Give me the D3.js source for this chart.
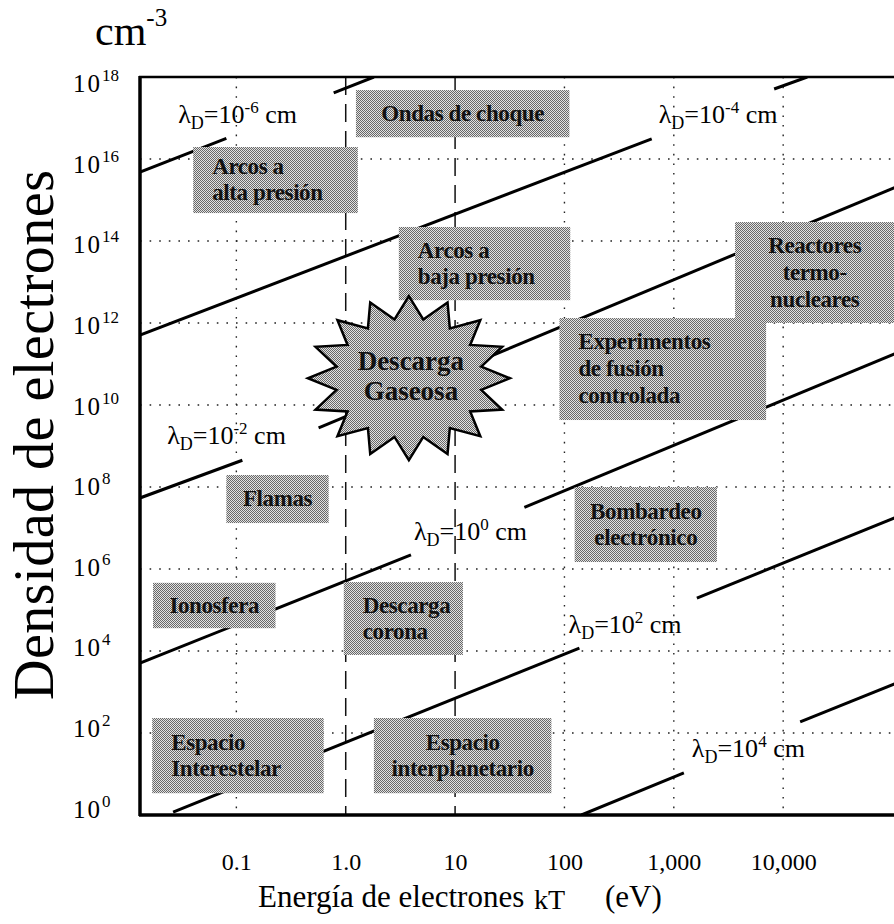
<!DOCTYPE html>
<html>
<head>
<meta charset="utf-8">
<script src="https://cdn.jsdelivr.net/npm/d3@7"></script>
<style>
  body { margin: 0; background: #fff; }
  svg { display: block; font-family: "Liberation Serif", "Times New Roman", serif; }
</style>
</head>
<body>
<div id="viz-container"></div>
<script>
let w = 894;
let h = 924;

// axis ticks
const xTicks = [0.1, 1, 10, 100, 1000, 10000];
const xTickLabels = ["0.1", "1.0", "10", "100", "1,000", "10,000"];
const yTickExps = [0, 2, 4, 6, 8, 10, 12, 14, 16, 18];
const dottedX = [0.1, 100, 1000, 10000];
const dashedX = [1, 10];

// Debye length lines, two visible pieces each: [kT eV, n cm^-3]
const debyeExps = [-6, -4, -2, 0, 2, 4];
const debyeSegments = [
  [[[0.01315, 4.8e15], [0.081, 3.2e16]], [[0.776, 4.1e17], [1.81, 1e18]]],
  [[[0.01315, 5.1e11], [628, 3.1e16]], [[8270, 5.1e17], [16600, 1e18]]],
  [[[0.01315, 5.4e7], [0.1135, 4.5e8]], [[0.565, 2.75e9], [1.09e5, 2.1e15]]],
  [[[0.01315, 5.1e3], [3.95, 2.2e6]], [[43, 3.2e7], [1.09e5, 1.86e11]]],
  [[[0.0264, 1.18], [137, 1.18e4]], [[1625, 1.96e5], [1.09e5, 1.86e7]]],
  [[[143, 1], [1236, 10.6]], [[14300, 186], [1.09e5, 1660]]]
];
const debyeLabelAt = [[0.0294, 7.6e16], [728, 7.6e16], [0.0233, 1.12e9], [4.2, 5.1e6], [109, 2.75e4], [1462, 26]];

// plasma regions
const regionNames = [
  ["Ondas de choque"],
  ["Arcos a", "alta presión"],
  ["Arcos a", "baja presión"],
  ["Reactores", "termo-", "nucleares"],
  ["Experimentos", "de fusión", "controlada"],
  ["Flamas"],
  ["Bombardeo", "electrónico"],
  ["Ionosfera"],
  ["Descarga", "corona"],
  ["Espacio", "Interestelar"],
  ["Espacio", "interplanetario"]
];
const regionT = [[1.24, 111], [0.0403, 1.29], [3.06, 113], [3630, 1.04e5], [90, 6980], [0.081, 0.698],
                 [124, 2480], [0.0173, 0.228], [0.96, 11.8], [0.017, 0.629], [1.81, 76]];
const regionN = [[3.4e16, 4.8e17], [4.8e14, 1.96e16], [3.6e12, 2.2e14], [1.0e12, 2.9e14], [4.3e9, 1.32e12], [1.32e7, 1.96e8],
                 [1.48e6, 1.0e8], [3.6e4, 4.6e5], [8.0e3, 4.8e5], [3.4, 232], [3.4, 232]];
const starName = ["Descarga", "Gaseosa"];
const starAt = [3.78, 4.5e10];

let leftAligned = ["Arcos a|alta presión", "Arcos a|baja presión", "Experimentos|de fusión|controlada",
                   "Descarga|corona", "Espacio|Interestelar"];

let x = d3.scaleLog().domain([0.01315, 1.3e5]).range([140, 905]);
let y = d3.scaleLog().domain([1, 1e18]).range([815, 77]);

let viz = d3.select("#viz-container")
  .append("svg")
  .attr("width", w)
  .attr("height", h);

let defs = viz.append("defs");
let pat = defs.append("pattern").attr("id", "dither")
  .attr("width", 2).attr("height", 2).attr("patternUnits", "userSpaceOnUse");
pat.append("rect").attr("width", 2).attr("height", 2).attr("fill", "#e2e2e2");
pat.append("rect").attr("width", 1).attr("height", 1).attr("fill", "#686868");
pat.append("rect").attr("x", 1).attr("y", 1).attr("width", 1).attr("height", 1).attr("fill", "#686868");
defs.append("clipPath").attr("id", "plot")
  .append("rect").attr("x", 140).attr("y", 77).attr("width", 765).attr("height", 738);

let plot = viz.append("g").attr("clip-path", "url(#plot)");

// grid
plot.selectAll(".hgrid").data(yTickExps.slice(1, -1)).enter().append("line")
  .attr("class", "hgrid")
  .attr("x1", 140).attr("x2", 905)
  .attr("y1", d => y(Math.pow(10, d))).attr("y2", d => y(Math.pow(10, d)))
  .attr("stroke", "#222").attr("stroke-width", 1.4).attr("stroke-dasharray", "1.6,8");
plot.selectAll(".vdot").data(dottedX).enter().append("line")
  .attr("class", "vdot")
  .attr("x1", d => x(d)).attr("x2", d => x(d))
  .attr("y1", 77).attr("y2", 815)
  .attr("stroke", "#222").attr("stroke-width", 1.4).attr("stroke-dasharray", "1.6,8");
plot.selectAll(".vdash").data(dashedX).enter().append("line")
  .attr("class", "vdash")
  .attr("x1", d => x(d)).attr("x2", d => x(d))
  .attr("y1", 77).attr("y2", 815)
  .attr("stroke", "#111").attr("stroke-width", 1.5).attr("stroke-dasharray", "18,9");

// debye lines
let lineMaker = d3.line().x(d => x(d[0])).y(d => y(d[1]));
debyeSegments.forEach(function (segs) {
  plot.selectAll(null).data(segs).enter().append("path")
    .attr("d", lineMaker)
    .attr("fill", "none")
    .attr("stroke", "#000")
    .attr("stroke-width", 3);
});

// region boxes
regionNames.forEach(function (names, i) {
  let x0 = x(regionT[i][0]), x1 = x(regionT[i][1]);
  let y0 = y(regionN[i][1]), y1 = y(regionN[i][0]);
  plot.append("rect")
    .attr("x", x0).attr("y", y0)
    .attr("width", x1 - x0).attr("height", y1 - y0)
    .attr("fill", "url(#dither)");
  let left = leftAligned.includes(names.join("|"));
  let cy = (y0 + y1) / 2;
  let lh = names.length == 3 ? 27 : 26;
  plot.selectAll(null).data(names).enter().append("text")
    .text(d => d)
    .attr("x", left ? x0 + 19 : (x0 + x1) / 2)
    .attr("y", (d, j) => cy + (j - (names.length - 1) / 2) * lh + 7)
    .attr("text-anchor", left ? "start" : "middle")
    .attr("font-weight", 700)
    .attr("font-size", 23)
    .attr("letter-spacing", -0.4)
    .attr("fill", "#111");
});

// star burst
let sx = x(starAt[0]), sy = y(starAt[1]);
let spikes = 16;
let starPts = d3.range(spikes * 2).map(function (k) {
  let a = -Math.PI / 2 + k * Math.PI / spikes;
  let r = k % 2 == 0 ? 1 : 0.73;
  return [sx + Math.cos(a) * 101 * r, sy + Math.sin(a) * 82 * r];
});
plot.append("path")
  .attr("d", d3.line().curve(d3.curveLinearClosed)(starPts))
  .attr("fill", "url(#dither)")
  .attr("stroke", "#000")
  .attr("stroke-width", 2.5)
  .attr("stroke-linejoin", "miter");
plot.selectAll(null).data(starName).enter().append("text")
  .text(d => d)
  .attr("x", sx + 2)
  .attr("y", (d, j) => sy - 8 + j * 30)
  .attr("text-anchor", "middle")
  .attr("font-weight", 700)
  .attr("font-size", 27)
  .attr("fill", "#111");

// debye labels
debyeExps.forEach(function (e, i) {
  let t = viz.append("text")
    .attr("x", x(debyeLabelAt[i][0]))
    .attr("y", y(debyeLabelAt[i][1]))
    .attr("font-size", 26)
    .attr("fill", "#000");
  t.append("tspan").text("λ");
  t.append("tspan").text("D").attr("font-size", 18).attr("dy", 6);
  t.append("tspan").text("=10").attr("dy", -6);
  t.append("tspan").text(String(e)).attr("font-size", 17).attr("dy", -10);
  t.append("tspan").text(" cm").attr("dy", 10);
});

// frame
viz.append("line").attr("x1", 140).attr("x2", 140).attr("y1", 76).attr("y2", 816)
  .attr("stroke", "#000").attr("stroke-width", 3.5);
viz.append("line").attr("x1", 139).attr("x2", w).attr("y1", 77).attr("y2", 77)
  .attr("stroke", "#000").attr("stroke-width", 2.5);
viz.append("line").attr("x1", 139).attr("x2", w).attr("y1", 815).attr("y2", 815)
  .attr("stroke", "#000").attr("stroke-width", 3.5);

// x axis
let xAxis = viz.append("g")
  .attr("transform", "translate(0,815)")
  .call(d3.axisBottom(x).tickValues(xTicks).tickSize(0).tickFormat((d, i) => xTickLabels[i]));
xAxis.select(".domain").remove();
xAxis.selectAll("text")
  .attr("y", 55).attr("dy", 0)
  .attr("font-family", "Liberation Serif")
  .attr("font-size", 24)
  .attr("fill", "#000");

// y axis
let yAxis = viz.append("g")
  .attr("transform", "translate(140,0)")
  .call(d3.axisLeft(y).tickValues(yTickExps.map(e => Math.pow(10, e))).tickSize(0).tickFormat(""));
yAxis.select(".domain").remove();
yAxis.selectAll(".tick text").each(function (d) {
  let e = Math.round(Math.log10(d));
  let t = d3.select(this)
    .attr("x", -67).attr("dy", 0)
    .attr("y", 2 + e * 0.7)
    .attr("text-anchor", "start")
    .attr("font-family", "Liberation Serif")
    .attr("font-size", 25)
    .attr("fill", "#000");
  t.append("tspan").text("10").attr("letter-spacing", 2);
  t.append("tspan").text(String(e)).attr("font-size", 17).attr("dy", -11);
});

// titles
let cm = viz.append("text").attr("x", 95).attr("y", 45).attr("font-size", 42).attr("fill", "#000");
cm.append("tspan").text("cm");
cm.append("tspan").text("-3").attr("font-size", 25).attr("dy", -19);

viz.append("text")
  .text("Densidad de electrones")
  .attr("transform", "translate(53,435) rotate(-90)")
  .attr("text-anchor", "middle")
  .attr("font-size", 56)
  .attr("textLength", 530)
  .attr("lengthAdjust", "spacing")
  .attr("fill", "#000");

viz.append("text").text("Energía de electrones")
  .attr("x", 258).attr("y", 907)
  .attr("font-size", 31)
  .attr("fill", "#000");
viz.append("text").text("kT").attr("x", 534).attr("y", 909).attr("font-size", 28).attr("fill", "#000");
viz.append("text").text("(eV)")
  .attr("x", 605).attr("y", 907)
  .attr("font-size", 31)
  .attr("fill", "#000");
</script>
</body>
</html>
